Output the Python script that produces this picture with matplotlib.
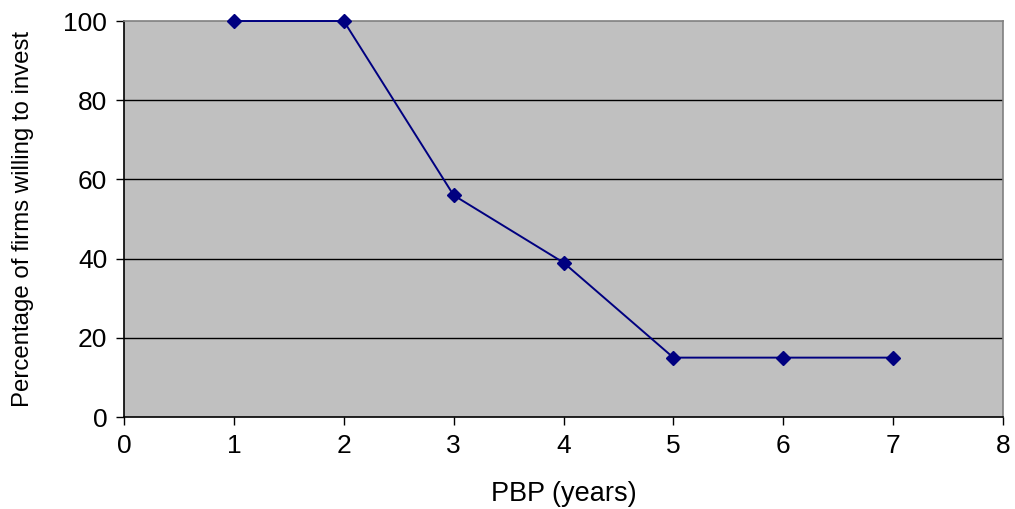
import matplotlib.pyplot as plt

plt.rcParams['font.family'] = ['Liberation Sans', 'DejaVu Sans']

pbp_years = [1, 2, 3, 4, 5, 6, 7]
pct_willing = [100, 100, 56, 39, 15, 15, 15]
x_ticks = [0, 1, 2, 3, 4, 5, 6, 7, 8]
y_ticks = [0, 20, 40, 60, 80, 100]

fig = plt.figure(figsize=(10.15, 5.09), dpi=100)
ax = fig.add_axes([0.1222, 0.1807, 0.8660, 0.7780])
ax.set_facecolor('#c0c0c0')

for y in y_ticks[1:-1]:
    ax.axhline(y, color='black', lw=1.0, zorder=1)

ax.plot(pbp_years, pct_willing, color='#000080', lw=1.4, marker='D',
        markersize=7.5, zorder=3, clip_on=False)

ax.set_xlim(0, 8)
ax.set_ylim(0, 100)
ax.set_xticks(x_ticks)
ax.set_yticks(y_ticks)
ax.tick_params(labelsize=19, length=6, width=1, direction='out', pad=6)

for side in ('left', 'bottom'):
    ax.spines[side].set_color('black')
    ax.spines[side].set_linewidth(1.2)
for side in ('top', 'right'):
    ax.spines[side].set_color('#808080')
    ax.spines[side].set_linewidth(1.2)

ax.set_xlabel('PBP (years)', fontsize=19.5, labelpad=17)
ax.set_ylabel('Percentage of firms willing to invest', fontsize=17.3, labelpad=21)

fig.savefig('out.png', dpi=100)
